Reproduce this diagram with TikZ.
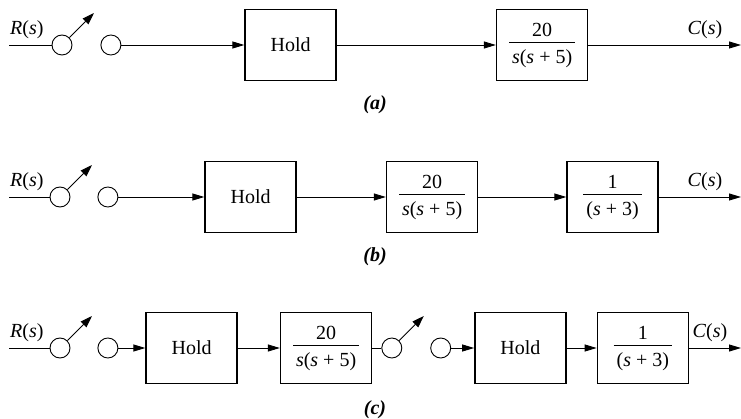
\documentclass[tikz,border=0pt]{standalone}
\usepackage{fontspec}
\setmainfont{Liberation Serif}
\usetikzlibrary{arrows.meta,positioning}
\newcommand{\dgfont}{\fontsize{20}{24}\selectfont}
\newcommand{\xferfrac}[2]{{\setlength{\arrayrulewidth}{1pt}%
  \begin{tabular}{@{\hspace{3pt}}c@{\hspace{3pt}}}#1\\[-1pt]\hline
  \rule{0pt}{20pt}#2\end{tabular}}}
\tikzset{
  %% blocks and sampler circles
  blkbox/.style={rectangle,draw,line width=1.5pt,
                 minimum width=91pt,minimum height=71pt,
                 inner sep=0pt,font=\dgfont,align=center},
  swcirc/.style={circle,draw,line width=0.9pt,
                 minimum size=20pt,inner sep=0pt},
  %% arrows
  sigarr/.style={-{Triangle[length=12pt,width=7pt]},line width=0.9pt},
  swarr/.style={-{Triangle[length=12pt,width=8pt]},line width=0.9pt},
  sigline/.style={line width=0.9pt},
  %% labels
  siglbl/.style={inner sep=1pt,font=\dgfont},
  caplbl/.style={inner sep=0pt,font=\dgfont\bfseries\itshape},
}

\begin{document}
\begin{tikzpicture}[x=1pt,y=1pt]
  \useasboundingbox (0,0) rectangle (741,418);

  %% (a)
  \coordinate (Ra) at (9,373);
  \node[swcirc] (S1a) at (62,373) {};
  \node[swcirc, right=28pt of S1a] (S2a) {};
  \node[blkbox, right=123pt of S2a] (Ha) {Hold};
  \node[blkbox, right=159pt of Ha] (Ga)
        {\xferfrac{20}{\textit{s}(\textit{s} + 5)}};
  \coordinate (Ca) at (741,373);
  \coordinate (T1a) at ([shift={(32pt,32pt)}]S1a.center);

  \draw[sigline] (Ra) -- (S1a.west);
  \draw[swarr] (S1a.45) -- (T1a);
  \draw[sigarr] (S2a.east) -- (Ha.west);
  \draw[sigarr] (Ha.east) -- (Ga.west);
  \draw[sigarr] (Ga.east) -- (Ca);
  \node[siglbl, anchor=south west] at ([yshift=5pt]Ra) {\textit{R}(\textit{s})};
  \node[siglbl, anchor=south] at ([xshift=-36pt,yshift=5pt]Ca) {\textit{C}(\textit{s})};
  \node[caplbl] (CapA) at (375,313) {(a)};

  %% (b)
  \coordinate (Rb) at (9,221);
  \node[swcirc] (S1b) at (60,221) {};
  \node[swcirc, right=27pt of S1b] (S2b) {};
  \node[blkbox, right=86pt of S2b] (Hb) {Hold};
  \node[blkbox, right=89pt of Hb] (Gb)
        {\xferfrac{20}{\textit{s}(\textit{s} + 5)}};
  \node[blkbox, right=88pt of Gb] (Pb)
        {\xferfrac{1}{(\textit{s} + 3)}};
  \coordinate (Cb) at (741,221);
  \coordinate (T1b) at ([shift={(32pt,32pt)}]S1b.center);

  \draw[sigline] (Rb) -- (S1b.west);
  \draw[swarr] (S1b.45) -- (T1b);
  \draw[sigarr] (S2b.east) -- (Hb.west);
  \draw[sigarr] (Hb.east) -- (Gb.west);
  \draw[sigarr] (Gb.east) -- (Pb.west);
  \draw[sigarr] (Pb.east) -- (Cb);
  \node[siglbl, anchor=south west] at ([yshift=5pt]Rb) {\textit{R}(\textit{s})};
  \node[siglbl, anchor=south] at ([xshift=-36pt,yshift=5pt]Cb) {\textit{C}(\textit{s})};
  \node[caplbl] (CapB) at (375,161) {(b)};

  %% (c)
  \coordinate (Rc) at (9,70);
  \node[swcirc] (S1c) at (60,70) {};
  \node[swcirc, right=27pt of S1c] (S2c) {};
  \node[blkbox, right=27pt of S2c] (Hc) {Hold};
  \node[blkbox, right=42pt of Hc] (Gc)
        {\xferfrac{20}{\textit{s}(\textit{s} + 5)}};
  \node[swcirc, right=9pt of Gc] (S3c) {};
  \node[swcirc, right=28pt of S3c] (S4c) {};
  \node[blkbox, right=23pt of S4c] (HHc) {Hold};
  \node[blkbox, right=30pt of HHc] (Pc)
        {\xferfrac{1}{(\textit{s} + 3)}};
  \coordinate (Cc) at (741,70);
  \coordinate (T1c) at ([shift={(32pt,32pt)}]S1c.center);
  \coordinate (T3c) at ([shift={(32pt,32pt)}]S3c.center);

  \draw[sigline] (Rc) -- (S1c.west);
  \draw[swarr] (S1c.45) -- (T1c);
  \draw[sigarr] (S2c.east) -- (Hc.west);
  \draw[sigarr] (Hc.east) -- (Gc.west);
  \draw[sigline] (Gc.east) -- (S3c.west);
  \draw[swarr] (S3c.45) -- (T3c);
  \draw[sigarr] (S4c.east) -- (HHc.west);
  \draw[sigarr] (HHc.east) -- (Pc.west);
  \draw[sigarr] (Pc.east) -- (Cc);
  \node[siglbl, anchor=south west] at ([yshift=5pt]Rc) {\textit{R}(\textit{s})};
  \node[siglbl, anchor=south] at ([xshift=-31pt,yshift=5pt]Cc) {\textit{C}(\textit{s})};
  \node[caplbl] (CapC) at (375,8) {(c)};
\end{tikzpicture}
\end{document}
